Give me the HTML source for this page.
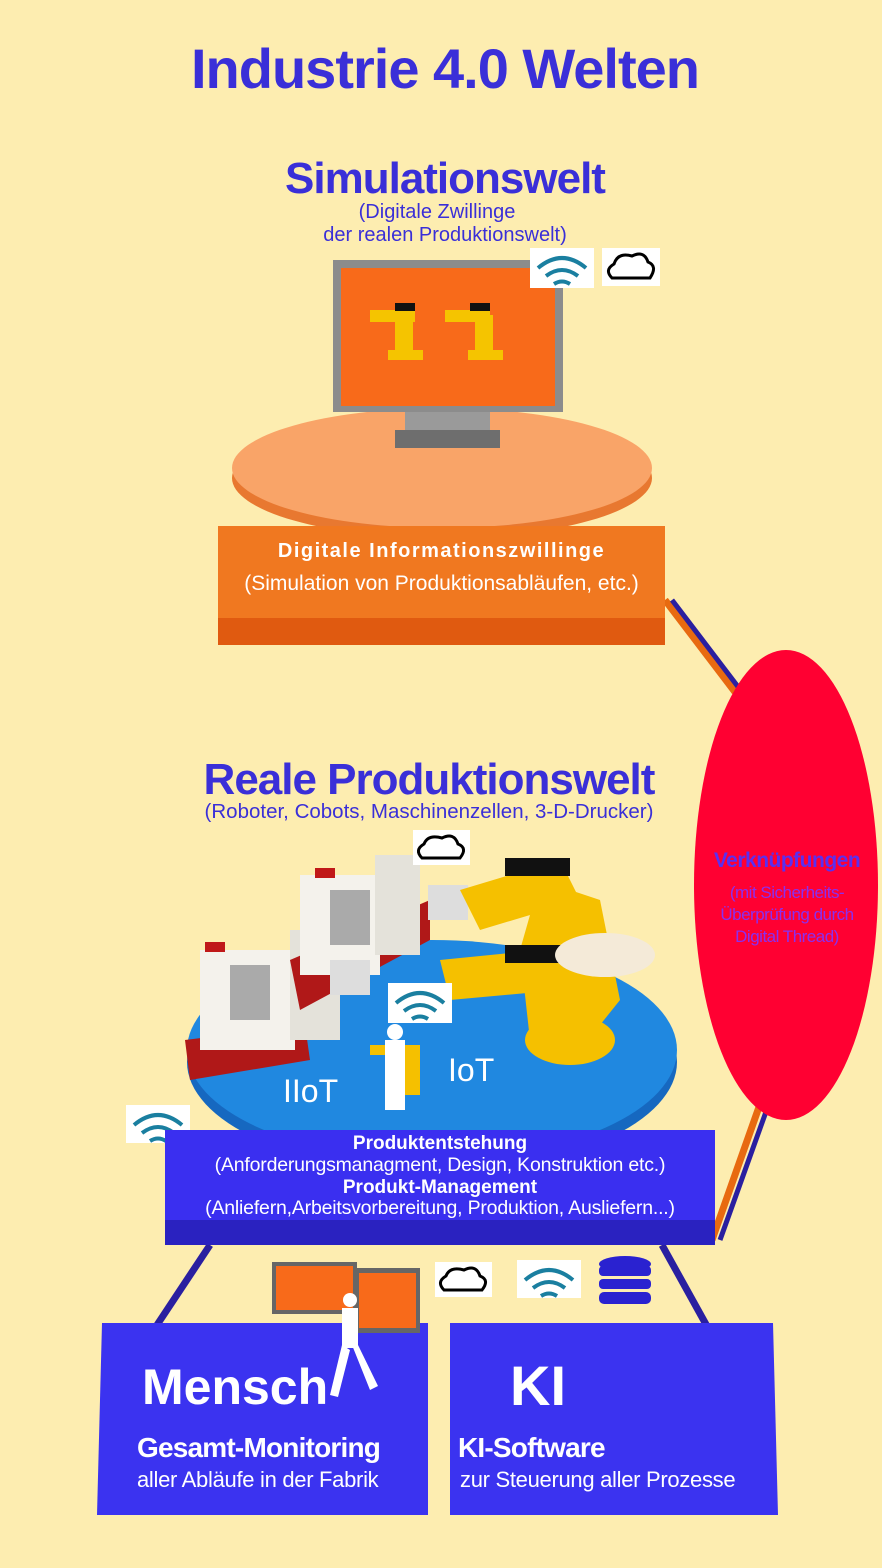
<!DOCTYPE html>
<html><head><meta charset="utf-8"><style>
body{margin:0;width:882px;height:1568px;background:#fdedb0;overflow:hidden;position:relative;font-family:"Liberation Sans",sans-serif}
.t{position:absolute;left:0;width:882px;text-align:center;color:#3a2fd8;white-space:nowrap}
svg{position:absolute;left:0;top:0}
</style></head><body>
<svg width="882" height="1568">
<line x1="665" y1="600" x2="735" y2="692" stroke="#e86a10" stroke-width="7"/>
<line x1="672" y1="600" x2="742" y2="692" stroke="#2a1fa0" stroke-width="5"/>
<line x1="765" y1="1090" x2="712" y2="1240" stroke="#e86a10" stroke-width="7"/>
<line x1="772" y1="1095" x2="720" y2="1240" stroke="#2a1fa0" stroke-width="5"/>
<line x1="210" y1="1245" x2="155" y2="1328" stroke="#2a1fa0" stroke-width="7"/>
<line x1="662" y1="1245" x2="708" y2="1328" stroke="#2a1fa0" stroke-width="7"/>
<ellipse cx="786" cy="885" rx="92" ry="235" fill="#ff0032"/>
<ellipse cx="442" cy="478" rx="210" ry="60" fill="#e87830"/>
<ellipse cx="442" cy="468" rx="210" ry="60" fill="#f9a468"/>
<rect x="405" y="410" width="85" height="28" fill="#9a9a9a"/>
<rect x="395" y="430" width="105" height="18" fill="#6e6e6e"/>
<rect x="333" y="260" width="230" height="152" fill="#8c8c8c"/>
<rect x="341" y="268" width="214" height="138" fill="#f86a1a"/>
<g fill="#f5c400"><rect x="370" y="310" width="45" height="12"/><rect x="395" y="315" width="18" height="40"/><rect x="388" y="350" width="35" height="10"/>
<rect x="445" y="310" width="45" height="12"/><rect x="475" y="315" width="18" height="40"/><rect x="468" y="350" width="35" height="10"/></g>
<rect x="395" y="303" width="20" height="8" fill="#111"/><rect x="470" y="303" width="20" height="8" fill="#111"/>
<rect x="218" y="526" width="447" height="119" fill="#f07820"/>
<rect x="218" y="618" width="447" height="27" fill="#e05a10"/>
<rect x="530" y="248" width="64" height="40" fill="#fff"/>
<g fill="none" stroke="#1a7fa0" stroke-width="4"><path d="M538 268 Q562 248 586 268"/><path d="M546 276 Q562 264 578 276"/><path d="M554 284 Q562 279 570 284"/></g>
<rect x="602" y="248" width="58" height="38" fill="#fff"/>
<path d="M612 278 Q604 270 614 264 Q618 252 632 256 Q644 250 648 262 Q658 266 650 278 Z" fill="#fff" stroke="#000" stroke-width="3"/>
<ellipse cx="432" cy="1062" rx="245" ry="110" fill="#1668c0"/>
<ellipse cx="432" cy="1050" rx="245" ry="110" fill="#2088e0"/>
<g>
<polygon points="185,1040 305,1025 310,1060 190,1080" fill="#b01818"/>
<rect x="200" y="950" width="95" height="100" fill="#f4f2ec"/><rect x="230" y="965" width="40" height="55" fill="#aaa"/>
<rect x="290" y="930" width="50" height="110" fill="#e4e2da"/>
<polygon points="290,960 430,900 430,940 300,1010" fill="#b01818"/>
<rect x="300" y="875" width="80" height="100" fill="#f4f2ec"/><rect x="330" y="890" width="40" height="55" fill="#aaa"/>
<rect x="375" y="855" width="45" height="100" fill="#e4e2da"/>
<rect x="330" y="960" width="40" height="35" fill="#ddd"/><rect x="428" y="885" width="40" height="35" fill="#ddd"/>
<rect x="205" y="942" width="20" height="10" fill="#c01818"/><rect x="315" y="868" width="20" height="10" fill="#c01818"/>
</g>
<g fill="#f5c000">
<polygon points="460,890 560,860 580,900 480,930"/>
<polygon points="540,880 600,900 620,1000 580,1050 530,1040 520,950"/>
<polygon points="440,960 540,950 560,990 450,1000"/>
<ellipse cx="570" cy="1040" rx="45" ry="25"/>
<rect x="370" y="1045" width="50" height="10"/><rect x="395" y="1050" width="25" height="45"/>
</g>
<rect x="505" y="858" width="65" height="18" fill="#111"/><rect x="505" y="945" width="65" height="18" fill="#111"/>
<ellipse cx="605" cy="955" rx="50" ry="22" fill="#f4ead8"/>
<rect x="385" y="1040" width="20" height="70" fill="#fff"/><circle cx="395" cy="1032" r="8" fill="#fff"/>
<rect x="413" y="830" width="57" height="35" fill="#fff"/>
<path d="M422 858 Q414 850 424 844 Q428 834 442 838 Q454 832 458 844 Q468 848 460 858 Z" fill="#fff" stroke="#000" stroke-width="3"/>
<rect x="388" y="983" width="64" height="40" fill="#fff"/>
<g fill="none" stroke="#1a7fa0" stroke-width="4"><path d="M396 1003 Q420 983 444 1003"/><path d="M404 1011 Q420 999 436 1011"/><path d="M412 1019 Q420 1014 428 1019"/></g>
<rect x="126" y="1105" width="64" height="38" fill="#fff"/>
<g fill="none" stroke="#1a7fa0" stroke-width="4"><path d="M134 1125 Q158 1105 182 1125"/><path d="M142 1133 Q158 1121 174 1133"/><path d="M150 1141 Q158 1136 166 1141"/></g>
<rect x="165" y="1130" width="550" height="115" fill="#3a2ff0"/>
<rect x="165" y="1220" width="550" height="25" fill="#2a22c0"/>
<rect x="435" y="1262" width="57" height="35" fill="#fff"/>
<path d="M444 1290 Q436 1282 446 1276 Q450 1266 464 1270 Q476 1264 480 1276 Q490 1280 482 1290 Z" fill="#fff" stroke="#000" stroke-width="3"/>
<rect x="517" y="1260" width="64" height="38" fill="#fff"/>
<g fill="none" stroke="#1a7fa0" stroke-width="4"><path d="M525 1280 Q549 1260 573 1280"/><path d="M533 1288 Q549 1276 565 1288"/><path d="M541 1296 Q549 1291 557 1296"/></g>
<g fill="#2a22d0"><ellipse cx="625" cy="1264" rx="26" ry="8"/><rect x="599" y="1266" width="52" height="10" rx="4"/><rect x="599" y="1279" width="52" height="10" rx="4"/><rect x="599" y="1292" width="52" height="12" rx="5"/></g>
<polygon points="102,1323 428,1323 428,1515 97,1515" fill="#3b33f0"/>
<polygon points="450,1323 773,1323 778,1515 450,1515" fill="#3b33f0"/>
<rect x="272" y="1262" width="85" height="52" fill="#666"/><rect x="276" y="1266" width="77" height="44" fill="#f86a1a"/>
<rect x="355" y="1268" width="65" height="65" fill="#666"/><rect x="359" y="1273" width="57" height="55" fill="#f86a1a"/>
<g fill="#fff"><circle cx="350" cy="1300" r="7"/><rect x="342" y="1308" width="16" height="40"/><polygon points="342,1345 330,1395 338,1397 350,1350"/><polygon points="352,1345 370,1390 378,1386 358,1345"/></g>
</svg>
<div class="t" style="top:36px;font-size:56px;font-weight:bold;letter-spacing:-1px;left:4px">Industrie 4.0 Welten</div>
<div class="t" style="top:154px;font-size:44px;font-weight:bold;left:4px;letter-spacing:-1px">Simulationswelt</div>
<div class="t" style="top:201px;font-size:20px;left:-4px">(Digitale Zwillinge</div>
<div class="t" style="top:224px;font-size:20px;left:4px">der realen Produktionswelt)</div>
<div class="t" style="top:540px;width:447px;left:218px;font-size:20px;font-weight:bold;color:#fff;letter-spacing:1.5px">Digitale Informationszwillinge</div>
<div class="t" style="top:572px;width:447px;left:218px;font-size:21px;color:#fff">(Simulation von Produktionsabläufen, etc.)</div>
<div class="t" style="top:755px;width:882px;left:-12px;font-size:44px;font-weight:bold;letter-spacing:-1px">Reale Produktionswelt</div>
<div class="t" style="top:800px;left:-12px;font-size:20.5px">(Roboter, Cobots, Maschinenzellen, 3-D-Drucker)</div>
<div class="t" style="top:849px;left:694px;width:186px;font-size:21px;font-weight:bold;color:#5a2ff0;letter-spacing:-0.5px">Verknüpfungen</div>
<div class="t" style="top:882px;left:692px;width:190px;font-size:17px;line-height:22px;color:#8a2ff0;white-space:normal;letter-spacing:-0.5px">(mit Sicherheits-<br>Überprüfung durch<br>Digital Thread)</div>
<div class="t" style="top:1052px;left:448px;width:60px;font-size:32px;color:#fff;text-align:left">IoT</div>
<div class="t" style="top:1073px;left:283px;width:80px;font-size:32px;color:#fff;text-align:left">IIoT</div>
<div class="t" style="top:1133px;left:165px;width:550px;font-size:19px;font-weight:bold;color:#fff;line-height:21px">Produktentstehung</div>
<div class="t" style="top:1155px;left:165px;width:550px;font-size:19.5px;color:#fff;line-height:21px;letter-spacing:-0.2px">(Anforderungsmanagment, Design, Konstruktion etc.)</div>
<div class="t" style="top:1177px;left:165px;width:550px;font-size:19px;font-weight:bold;color:#fff;line-height:21px">Produkt-Management</div>
<div class="t" style="top:1198px;left:165px;width:550px;font-size:19.5px;color:#fff;line-height:21px;letter-spacing:-0.2px">(Anliefern,Arbeitsvorbereitung, Produktion, Ausliefern...)</div>
<div class="t" style="top:1358px;left:142px;width:200px;text-align:left;font-size:50px;font-weight:bold;color:#fff">Mensch</div>
<div class="t" style="top:1432px;left:137px;width:290px;text-align:left;font-size:28px;font-weight:bold;color:#fff;letter-spacing:-0.8px">Gesamt-Monitoring</div>
<div class="t" style="top:1467px;left:137px;width:290px;text-align:left;font-size:22px;color:#fff;letter-spacing:-0.3px">aller Abläufe in der Fabrik</div>
<div class="t" style="top:1353px;left:510px;width:100px;text-align:left;font-size:56px;font-weight:bold;color:#fff">KI</div>
<div class="t" style="top:1432px;left:458px;width:300px;text-align:left;font-size:28px;font-weight:bold;color:#fff;letter-spacing:-0.8px">KI-Software</div>
<div class="t" style="top:1467px;left:460px;width:320px;text-align:left;font-size:22px;color:#fff;letter-spacing:-0.3px">zur Steuerung aller Prozesse</div>
</body></html>
